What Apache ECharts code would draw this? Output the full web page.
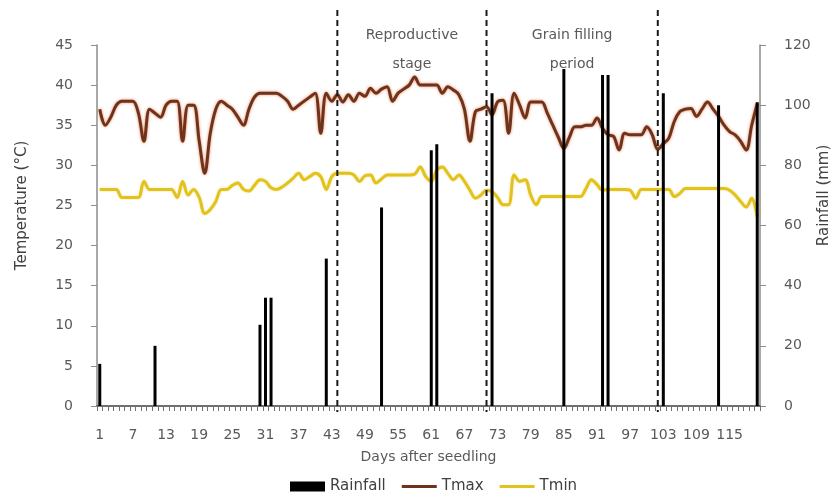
<!DOCTYPE html>
<html>
<head>
<meta charset="utf-8">
<script src="https://cdn.jsdelivr.net/npm/echarts@6/dist/echarts.min.js"></script>
<style>
  html, body { margin: 0; padding: 0; background: #ffffff; }
  #chart { width: 837px; height: 494px; }
</style>
</head>
<body>
<div id="chart"></div>
<script>
// Days after seedling (category axis)
const days = Array.from({ length: 120 }, (_, i) => String(i + 1));
// Day numbers that carry a tick label
const dayTicks = ['1','7','13','19','25','31','37','43','49','55','61','67','73','79','85','91','97','103','109','115'];

// Daily rainfall (mm)
const rainfall = [
  14, 0, 0, 0, 0, 0, 0, 0, 0, 0,
  20, 0, 0, 0, 0, 0, 0, 0, 0, 0,
  0, 0, 0, 0, 0, 0, 0, 0, 0, 27,
  36, 36, 0, 0, 0, 0, 0, 0, 0, 0,
  0, 49, 0, 0, 0, 0, 0, 0, 0, 0,
  0, 66, 0, 0, 0, 0, 0, 0, 0, 0,
  85, 87, 0, 0, 0, 0, 0, 0, 0, 0,
  0, 104, 0, 0, 0, 0, 0, 0, 0, 0,
  0, 0, 0, 0, 112, 0, 0, 0, 0, 0,
  0, 110, 110, 0, 0, 0, 0, 0, 0, 0,
  0, 0, 104, 0, 0, 0, 0, 0, 0, 0,
  0, 0, 100, 0, 0, 0, 0, 0, 0, 101
];

// Daily maximum temperature (°C)
const tmax = [
  37, 35, 36, 37.5, 38, 38, 38, 36.5, 33, 37,
  36.5, 36, 37.5, 38, 38, 33, 37.5, 37.5, 33, 29,
  34, 37, 38, 37.5, 37, 36, 35, 37, 38.5, 39,
  39, 39, 39, 38.6, 38, 37, 37.5, 38, 38.5, 39,
  34, 39, 38, 38.8, 37.9, 38.8, 38, 39, 38.6, 39.6,
  39, 39.5, 39.8, 38, 39, 39.5, 40, 41, 40, 40,
  40, 40, 39, 39.8, 39.4, 38.8, 37, 33, 36.7, 37,
  37.3, 36.3, 37.9, 38.1, 34, 39, 37.5, 35.9, 37.9, 37.9,
  37.9, 36.5, 35, 33.5, 32.1, 33.5, 34.8, 34.8, 35, 35,
  35.9, 34.6, 33.8, 33.6, 31.9, 34, 33.8, 33.8, 33.8, 34.8,
  33.8, 32, 32.7, 33.4, 35.5, 36.7, 37, 37.1, 36.1, 37,
  37.9, 37, 36.1, 35, 34.2, 33.8, 33, 31.9, 35, 37.7
];

// Daily minimum temperature (°C)
const tmin = [
  27, 27, 27, 27, 26, 26, 26, 26, 28, 27,
  27, 27, 27, 27, 26, 28, 26.3, 27, 26, 24,
  24.5, 25.5, 27, 27, 27.5, 27.8, 27, 26.8, 27.5, 28.2,
  28, 27.2, 27, 27.3, 27.8, 28.4, 29, 28.2, 28.6, 29,
  28.6, 27, 28.6, 29, 29, 29, 28.8, 28, 28.7, 28.8,
  27.8, 28.3, 28.8, 28.8, 28.8, 28.8, 28.8, 28.9, 29.8, 28.6,
  28, 29.4, 29.8, 29, 28.2, 28.8, 28, 26.9, 25.9, 26.3,
  26.9, 26.7, 26, 25.1, 25.1, 28.8, 28, 28.2, 26.3, 25.1,
  26.1, 26.1, 26.1, 26.1, 26.1, 26.1, 26.1, 26.1, 27.1, 28.2,
  27.6, 26.9, 27, 27, 27, 27, 26.9, 25.9, 27, 27,
  27, 27, 27, 27, 26.1, 26.5, 27.1, 27.1, 27.1, 27.1,
  27.1, 27.1, 27.1, 27.1, 26.9, 26.3, 25.5, 24.8, 25.9, 23.6
];

// Growth-stage boundaries (day) and the stage names written between them
const stageBoundaries = [44, 71, 102];
const stageNames = ['Reproductive\nstage', 'Grain filling\nperiod'];

const FONT = 'DejaVu Sans';
const GREY = '#595959';
// Flat stroke used as the legend key of the temperature lines
const LINE_KEY = 'path://M0,0 L35,0 L35,3 L0,3 Z';

const chart = echarts.init(document.getElementById('chart'));

chart.setOption({
  animation: false,
  backgroundColor: '#ffffff',
  textStyle: { fontFamily: FONT },
  grid: { left: 97, right: 77, top: 45, bottom: 88 },
  legend: {
    data: [
      { name: 'Rainfall', icon: 'rect' },
      { name: 'Tmax', icon: LINE_KEY },
      { name: 'Tmin', icon: LINE_KEY }
    ],
    left: 285,
    top: 474,
    itemWidth: 35,
    itemHeight: 10,
    itemGap: 16,
    symbolKeepAspect: true,
    textStyle: { fontFamily: FONT, fontSize: 15, color: '#404040' }
  },
  xAxis: {
    type: 'category',
    data: days,
    boundaryGap: true,
    name: 'Days after seedling',
    nameLocation: 'middle',
    nameGap: 44,
    nameTextStyle: { fontFamily: FONT, fontSize: 14, color: GREY },
    axisLine: { lineStyle: { color: '#404040', width: 1.5 } },
    axisTick: { show: true, interval: 0, length: 5, lineStyle: { color: '#707070' } },
    axisLabel: {
      interval: (idx, val) => dayTicks.includes(val),
      margin: 22,
      fontFamily: FONT,
      fontSize: 14,
      color: GREY
    },
    splitLine: { show: false }
  },
  yAxis: [
    {
      type: 'value',
      min: 0,
      max: 45,
      interval: 5,
      position: 'left',
      axisLine: { show: true, lineStyle: { color: '#8c8c8c', width: 1.5 } },
      axisTick: { show: true, length: 6, lineStyle: { color: '#8c8c8c' } },
      axisLabel: { margin: 24, fontFamily: FONT, fontSize: 14, color: GREY },
      splitLine: { show: false }
    },
    {
      type: 'value',
      min: 0,
      max: 120,
      interval: 20,
      position: 'right',
      axisLine: { show: true, lineStyle: { color: '#8c8c8c', width: 1.5 } },
      axisTick: { show: true, length: 6, lineStyle: { color: '#8c8c8c' } },
      axisLabel: { margin: 24, fontFamily: FONT, fontSize: 14, color: GREY },
      splitLine: { show: false }
    }
  ],
  series: [
    {
      name: 'Tmax',
      type: 'line',
      yAxisIndex: 0,
      data: tmax,
      smooth: 0.35,
      symbol: 'none',
      z: 2,
      itemStyle: { color: '#6e331c' },
      lineStyle: {
        color: '#6e331c',
        width: 3,
        shadowColor: 'rgba(226,110,60,0.85)',
        shadowBlur: 3
      }
    },
    {
      name: 'Tmin',
      type: 'line',
      yAxisIndex: 0,
      data: tmin,
      smooth: 0.35,
      symbol: 'none',
      z: 2,
      itemStyle: { color: '#e2c31c' },
      lineStyle: {
        color: '#e2c31c',
        width: 3,
        shadowColor: 'rgba(240,200,80,0.7)',
        shadowBlur: 2
      }
    },
    {
      name: 'Rainfall',
      type: 'bar',
      yAxisIndex: 1,
      data: rainfall,
      barWidth: 3,
      z: 3,
      itemStyle: { color: '#000000' }
    }
  ]
});

// Stage boundaries, stage names and rotated axis titles, placed from the axis scales
function drawOverlay() {
  const top = 10;
  const bottom = chart.convertToPixel({ yAxisIndex: 0 }, 0) + 6;
  const xs = stageBoundaries.map(d => chart.convertToPixel({ xAxisIndex: 0 }, String(d)));
  const graphics = xs.map(x => ({
    type: 'line',
    silent: true,
    z: 10,
    shape: { x1: x, y1: top, x2: x, y2: bottom },
    style: { stroke: '#1a1a1a', lineWidth: 2, lineDash: [6, 4] }
  }));
  stageNames.forEach((name, i) => {
    graphics.push({
      type: 'text',
      silent: true,
      x: (xs[i] + xs[i + 1]) / 2,
      y: 49.5,
      style: {
        text: name,
        fontFamily: FONT,
        fontSize: 14,
        lineHeight: 29,
        fill: GREY,
        align: 'center',
        verticalAlign: 'middle'
      }
    });
  });
  graphics.push({
    type: 'text',
    silent: true,
    x: 22,
    y: chart.convertToPixel({ yAxisIndex: 0 }, 25),
    rotation: Math.PI / 2,
    style: {
      text: 'Temperature (\u00B0C)',
      fontFamily: FONT, fontSize: 15, fill: '#404040',
      align: 'center', verticalAlign: 'middle'
    }
  });
  graphics.push({
    type: 'text',
    silent: true,
    x: 824,
    y: chart.convertToPixel({ yAxisIndex: 1 }, 70),
    rotation: Math.PI / 2,
    style: {
      text: 'Rainfall (mm)',
      fontFamily: FONT, fontSize: 15, fill: '#404040',
      align: 'center', verticalAlign: 'middle'
    }
  });
  chart.setOption({ graphic: graphics });
}
drawOverlay();
</script>
</body>
</html>
